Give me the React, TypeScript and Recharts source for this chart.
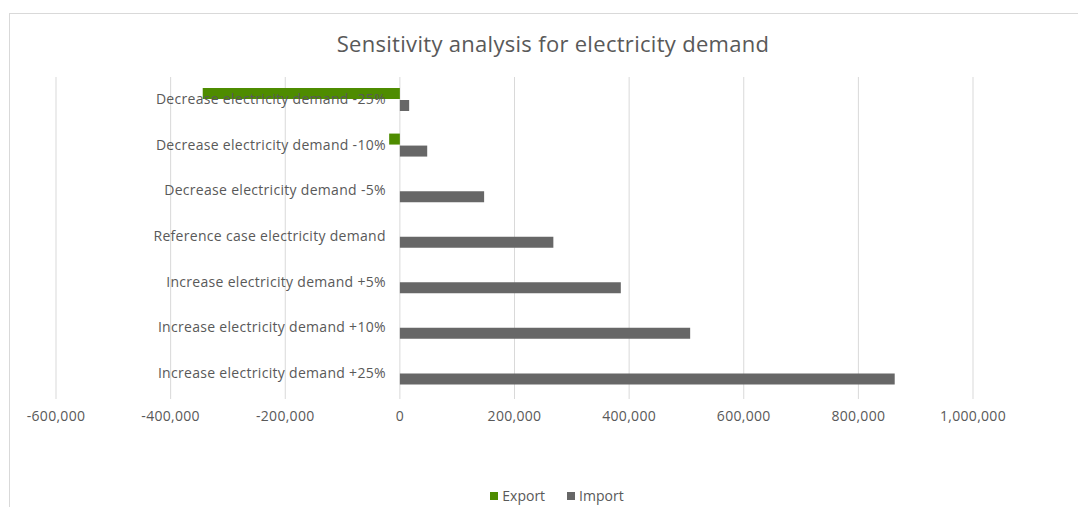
import { BarChart, Bar, XAxis, YAxis, CartesianGrid, Legend } from 'recharts'

const categories = [
  'Decrease electricity demand -25%',
  'Decrease electricity demand -10%',
  'Decrease electricity demand -5%',
  'Reference case electricity demand',
  'Increase electricity demand +5%',
  'Increase electricity demand +10%',
  'Increase electricity demand +25%',
]
const exportValues = [-344000, -18700, 0, 0, 0, 0, 0]
const importValues = [16200, 47700, 147000, 267800, 385500, 506500, 863400]
const xTicks = [-600000, -400000, -200000, 0, 200000, 400000, 600000, 800000, 1000000]

const data = categories.map((name, i) => ({
  name,
  Export: exportValues[i],
  Import: importValues[i],
}))

const W = 1078
const H = 507
const margin = { top: 77, right: 105, bottom: 62, left: 55 }
const Y_W = 1
const xMin = -600000
const xMax = 1000000
const FONT = '"Open Sans", sans-serif'
const TEXT = '#595959'
const GREEN = '#4E8C00'
const GRAY = '#676767'

const fmt = (v: number) => v.toLocaleString('en-US')

// category labels sit next to the zero line, like Excel's axis crossing at 0
function CategoryTick(props: any) {
  const { y, payload } = props
  const left = margin.left + Y_W
  const plotW = W - left - margin.right
  const zeroX = left + ((0 - xMin) / (xMax - xMin)) * plotW
  return (
    <text
      x={zeroX - 14}
      y={y - 1}
      textAnchor="end"
      dominantBaseline="central"
      fontSize={14}
      letterSpacing={0.3}
      fontFamily={FONT}
      fill={TEXT}
    >
      {payload.value}
    </text>
  )
}

function LegendContent() {
  const items = [
    { label: 'Export', color: GREEN },
    { label: 'Import', color: GRAY },
  ]
  return (
    <div style={{ display: 'flex', justifyContent: 'center', gap: 22, fontFamily: FONT, fontSize: 14, color: TEXT }}>
      {items.map((it) => (
        <span key={it.label} style={{ display: 'flex', alignItems: 'center', gap: 4 }}>
          <span style={{ width: 8, height: 8, background: it.color, display: 'inline-block' }} />
          {it.label}
        </span>
      ))}
    </div>
  )
}

export default function App() {
  return (
    <div style={{ position: 'absolute', left: 0, top: 0, width: W, height: H, background: '#fff', overflow: 'hidden' }}>
      <div
        style={{
          position: 'absolute',
          left: 9,
          top: 13,
          width: W + 20,
          height: H + 20,
          border: '1px solid #d9d9d9',
        }}
      />
      <div
        style={{
          position: 'absolute',
          left: 0,
          top: 28,
          width: 1106,
          textAlign: 'center',
          fontFamily: FONT,
          fontSize: 22,
          letterSpacing: 0.3,
          color: TEXT,
        }}
      >
        Sensitivity analysis for electricity demand
      </div>
      <BarChart
        width={W}
        height={H}
        data={data}
        layout="vertical"
        margin={margin}
        barSize={11}
        barGap={1}
        style={{ position: 'absolute', left: 0, top: 0 }}
      >
        <CartesianGrid horizontal={false} stroke="#d9d9d9" />
        <XAxis
          type="number"
          domain={[xMin, xMax]}
          ticks={xTicks}
          tickFormatter={fmt}
          axisLine={false}
          tickLine={{ stroke: '#d9d9d9' }}
          tickSize={3}
          height={30}
          tick={{ fontSize: 14, letterSpacing: 0.3, fontFamily: FONT, fill: TEXT, dy: 10 }}
        />
        <YAxis
          type="category"
          dataKey="name"
          width={Y_W}
          axisLine={false}
          tickLine={false}
          tick={<CategoryTick />}
          interval={0}
        />
        <Bar dataKey="Export" fill={GREEN} isAnimationActive={false} />
        <Bar dataKey="Import" fill={GRAY} isAnimationActive={false} />
        <Legend
          verticalAlign="bottom"
          content={<LegendContent />}
          wrapperStyle={{ bottom: 2, left: 4, width: 1106 }}
        />
      </BarChart>
    </div>
  )
}
